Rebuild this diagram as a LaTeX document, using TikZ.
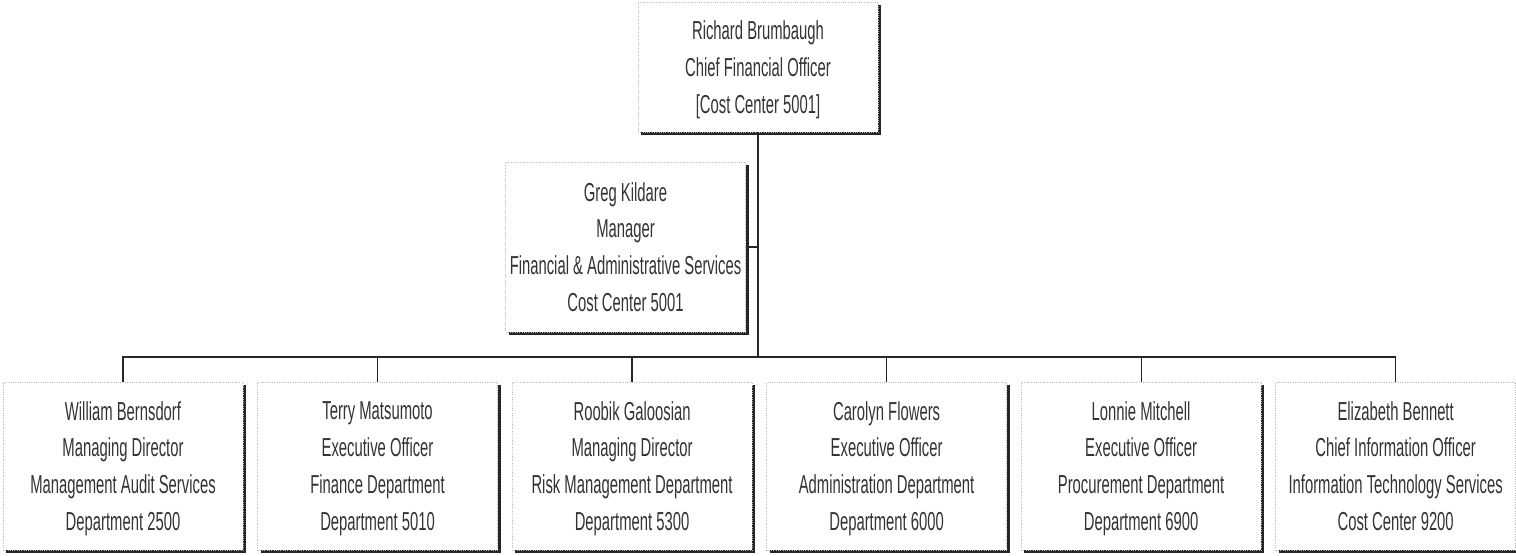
\documentclass[tikz,border=0pt]{standalone}
\usepackage{fontspec}
\setmainfont{Liberation Sans}[FakeStretch=0.57]
\usepackage{tikz}
\usetikzlibrary{positioning, shadows}

\begin{document}
\begin{tikzpicture}[
        node distance=0.28cm,
        person/.style={rectangle, draw=gray!55, densely dotted, line width=0.3pt, fill=white, align=center,
            minimum width=4.8cm, minimum height=3.36cm, inner sep=2pt, text=black!80,
            font=\fontsize{14.8}{21}\selectfont, text depth=0pt,
            drop shadow={shadow xshift=0.06cm, shadow yshift=-0.06cm, fill=black!85, opacity=1}},
        link/.style={draw=black!85, line width=0.7pt}
    ]
        \useasboundingbox (0,0) rectangle (30.32,-11.1);

        % Top: CFO and his manager
        \node[person, minimum height=2.6cm] (cfo) at (15.16,-1.34) {Richard Brumbaugh\\Chief Financial Officer\\{[Cost Center 5001]}};
        \node[person, minimum height=3.4cm] (mgr) at (12.51,-4.94) {Greg Kildare\\Manager\\Financial \& Administrative Services\\Cost Center 5001};

        % Bottom row: departments
        \node[person] (audit) at (2.46,-9.32) {William Bernsdorf\\Managing Director\\Management Audit Services\\Department 2500};
        \node[person, right=of audit] (finance) {Terry Matsumoto\\Executive Officer\\Finance Department\\Department 5010};
        \node[person, right=of finance] (risk) {Roobik Galoosian\\Managing Director\\Risk Management Department\\Department 5300};
        \node[person, right=of risk] (admin) {Carolyn Flowers\\Executive Officer\\Administration Department\\Department 6000};
        \node[person, right=of admin] (procure) {Lonnie Mitchell\\Executive Officer\\Procurement Department\\Department 6900};
        \node[person, right=of procure] (itserv) {Elizabeth Bennett\\Chief Information Officer\\Information Technology Services\\Cost Center 9200};

        % Trunk and bus
        \coordinate (bus) at (cfo.south |- 0,-7.14);
        \draw[link] (cfo.south) -- (bus);
        \draw[link] (mgr.east) -- (mgr.east -| bus);
        \draw[link] (audit.north) -- (audit.north |- bus) -- (itserv.north |- bus) -- (itserv.north);
        \draw[link] (finance.north) -- (finance.north |- bus);
        \draw[link] (risk.north) -- (risk.north |- bus);
        \draw[link] (admin.north) -- (admin.north |- bus);
        \draw[link] (procure.north) -- (procure.north |- bus);

    \end{tikzpicture}
\end{document}
